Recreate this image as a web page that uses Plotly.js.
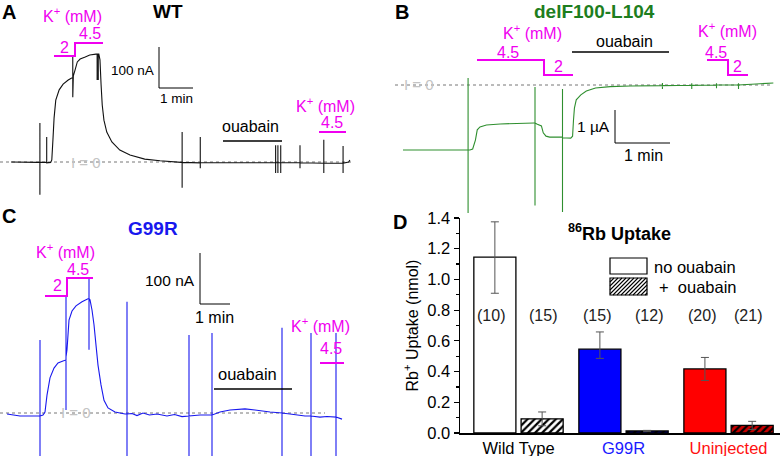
<!DOCTYPE html>
<html><head><meta charset="utf-8">
<script src="https://cdn.plot.ly/plotly-3.0.1.min.js"></script>
<style>html,body{margin:0;padding:0;background:#fff}#chart{width:781px;height:456px}</style>
</head><body><div id="chart"></div>
<script>
// ================= DATA =================
// Panel A (WT): time (s), current (nA); spikes are repeated time points
const wtTime = [0,47,51,51,51,51,63,63,63,70,72,74,76,79,85,92,101,107,109,109,109,110,113,117,122,131,139,150,152,152,152,154,154,154,155,157,159,161,164,169,178,192,210,236,263,300,302,302,302,302,334,334,334,334,400,467,467,467,467,471,471,471,471,476,476,476,476,510,510,510,510,552,552,552,552,586,586,586,586,596,598];
const wtCurrent = [0,-1,-1,95,-80,-1,-1,61,-2,-1,5,54,107,151,176,190,200,205,205,261,158,210,224,244,251,256,261,263,263,200,263,263,200,263,263,249,188,139,102,73,49,29,17,7,3,-1,-1,73,-63,-1,-2,61,-15,-2,-2,-2,41,-27,-2,-2,41,-27,-2,-2,41,-27,-2,-2,41,-15,-2,-3,54,-27,-3,-3,39,-27,-3,0,5];

// Panel B (delF100-L104): time (s), current (uA)
const delTime = [0,70,71,71,71,71,73,76,79,81,84,91,106,143,144,144,144,144,146,151,153,156,160,174,174,174,174,183,185,186,187,189,194,200,210,226,248,283,283,283,283,315,315,315,315,342,342,342,342,366,366,366,366,385,404];
const delCurrent = [-1.97,-1.97,-1.97,0.21,-3.88,-1.97,-1.97,-1.94,-1.67,-1.36,-1.27,-1.21,-1.18,-1.15,-1.15,-0.06,-3.65,-1.15,-1.18,-1.24,-1.45,-1.55,-1.58,-1.58,-0.12,-3.85,-1.6,-1.61,-1.55,-1.06,-0.70,-0.45,-0.30,-0.18,-0.09,-0.05,-0.03,-0.02,0.06,-0.12,-0.02,-0.01,0.05,-0.12,-0.01,0,0.05,-0.1,0,0,0.05,-0.12,0,0.03,0.06];

// Panel C (G99R): time (s), current (nA)
const g99rTime = [0,26,62,66,66,66,66,72,76,80,86,94,102,112,118,118,118,118,120,124,130,138,150,162,164,164,164,164,166,170,174,178,182,188,194,202,216,236,240,240,240,240,250,260,272,285,300,320,335,350,364,364,364,364,386,410,410,410,410,426,446,476,496,526,550,550,550,550,566,596,608,608,608,608,626,640,658,658,658,658,670];
const g99rCurrent = [-2,-6,-6,-6,143,-95,-6,-4,2,35,69,88,98,102,104,231,6,110,124,182,200,210,218,224,224,265,124,224,222,202,173,133,94,55,25,10,2,-2,-2,218,-95,-2,-1,-5,0,-4,-2,-6,-3,-7,-6,153,-95,-6,-4,-4,157,-95,-4,2,6,8,6,2,0,167,-95,0,-2,-6,-6,157,-95,-6,-8,-7,-8,157,-95,-8,-12];

// Panel D (86Rb uptake)
const groups = ['Wild Type', 'G99R', 'Uninjected'];
const uptakeNoOuabain = [1.145, 0.546, 0.417];
const errNoOuabainPlus = [0.23, 0.112, 0.075];
const errNoOuabainMinus = [0.235, 0.06, 0.075];
const uptakeOuabain = [0.092, 0.013, 0.049];
const errOuabain = [0.045, 0.004, 0.027];
const nNoOuabain = ['(10)', '(15)', '(20)'];
const nOuabain = ['(15)', '(12)', '(21)'];

// ================= LAYOUT HELPERS =================
const W = 781, H = 456;
const FONT = '"Liberation Sans", Arial, sans-serif';
const MAG = '#f000f0';
const GREEN_T = '#1e7e1e', GREEN = '#2f8f2f', BLUE = '#1818ee';

const panels = {
  A: {x0: 11, sx: 34/60, y0: 162, sy: 0.41, dom: [0, 390, 0, 200]},
  B: {x0: 403, sx: 55/60, y0: 85, sy: 33, dom: [390, 781, 0, 216]},
  C: {x0: 7, sx: 0.5, y0: 413, sy: 0.51, dom: [0, 390, 200, 456]}
};
function hiddenAxes(p) {
  const [l, r, t, b] = p.dom;
  return {
    x: {domain: [l/W, r/W], range: [(l-p.x0)/p.sx, (r-p.x0)/p.sx], visible: false, fixedrange: true},
    y: {domain: [1-b/H, 1-t/H], range: [(p.y0-b)/p.sy, (p.y0-t)/p.sy], visible: false, fixedrange: true}
  };
}
const aA = hiddenAxes(panels.A), aB = hiddenAxes(panels.B), aC = hiddenAxes(panels.C);

function ann(text, x, y, size, color, opts) {
  return Object.assign({xref: 'paper', yref: 'paper', x: x/W, y: 1-y/H, text: text, showarrow: false,
    font: {family: FONT, size: size, color: color}, xanchor: 'center', yanchor: 'middle'}, opts || {});
}
function ppath(pts) {
  return pts.map((p, i) => (i ? 'L' : 'M') + (p[0]/W).toFixed(5) + ',' + (1-p[1]/H).toFixed(5)).join(' ');
}
function pline(pts, color, width) {
  return {type: 'path', xref: 'paper', yref: 'paper', path: ppath(pts), line: {color: color, width: width}};
}
function scaleBar(p, xr, yr, cx, cy, dt, dI) {
  const t = (cx-p.x0)/p.sx, I = (p.y0-cy)/p.sy;
  return [
    {type: 'line', xref: xr, yref: yr, x0: t, x1: t, y0: I, y1: I+dI, line: {color: '#000', width: 1}},
    {type: 'line', xref: xr, yref: yr, x0: t, x1: t+dt, y0: I, y1: I, line: {color: '#000', width: 1}}
  ];
}
function zeroLine(xr, yr, f0, f1) {
  return {type: 'line', xref: xr + ' domain', yref: yr, x0: f0, x1: f1, y0: 0, y1: 0, layer: 'below',
    line: {color: '#777', width: 1, dash: 'dot'}};
}

// ================= TRACES =================
const traces = [
  {type: 'scatter', mode: 'lines', x: wtTime, y: wtCurrent, xaxis: 'x', yaxis: 'y',
   line: {color: '#111', width: 1.1, simplify: false}, hoverinfo: 'skip', showlegend: false},
  {type: 'scatter', mode: 'lines', x: delTime, y: delCurrent, xaxis: 'x2', yaxis: 'y2',
   line: {color: GREEN, width: 1.1, simplify: false}, hoverinfo: 'skip', showlegend: false},
  {type: 'scatter', mode: 'lines', x: g99rTime, y: g99rCurrent, xaxis: 'x3', yaxis: 'y3',
   line: {color: BLUE, width: 1.1, simplify: false}, hoverinfo: 'skip', showlegend: false},
  {type: 'bar', x: groups, y: uptakeNoOuabain, xaxis: 'x4', yaxis: 'y4', name: 'no ouabain', showlegend: false,
   marker: {color: ['#ffffff', '#0000ff', '#ff0000'], line: {color: '#000', width: 1.3}},
   error_y: {type: 'data', array: errNoOuabainPlus, arrayminus: errNoOuabainMinus, color: '#555', thickness: 1, width: 4}},
  {type: 'bar', x: groups, y: uptakeOuabain, xaxis: 'x4', yaxis: 'y4', name: '+ ouabain', showlegend: false,
   marker: {color: '#000', line: {color: '#000', width: 1.3},
     pattern: {shape: '/', fillmode: 'replace', fgcolor: '#000', fgopacity: 1,
               bgcolor: ['#ffffff', '#0000c0', '#c80000'], size: 5, solidity: 0.45}},
   error_y: {type: 'data', array: errOuabain, color: '#555', thickness: 1, width: 4}}
];

// ================= SHAPES =================
const shapes = [
  zeroLine('x', 'y', 0, 353/390),
  zeroLine('x2', 'y2', 5/391, 383/391),
  zeroLine('x3', 'y3', 0, 325/390),
  ...scaleBar(panels.A, 'x', 'y', 159, 88, 60, 100),
  ...scaleBar(panels.B, 'x2', 'y2', 615, 143, 60, 1),
  ...scaleBar(panels.C, 'x3', 'y3', 200, 304, 60, 100),
  // K+ steps
  pline([[54,56],[75,56],[75,43],[103,43]], MAG, 2),
  pline([[319,132],[346,132]], MAG, 2),
  pline([[477,60],[544,60],[544,75],[573,75]], MAG, 2),
  pline([[707,60],[728,60],[728,75],[748,75]], MAG, 2),
  pline([[45,296],[67,296],[67,278],[93,278]], MAG, 2),
  pline([[320,363],[344,363]], MAG, 2),
  // ouabain bars
  pline([[223,141],[282,141]], '#000', 1.5),
  pline([[572,52],[669,52]], '#000', 1.5),
  pline([[214,389],[292,389]], '#000', 1.5),
  // legend boxes
  {type: 'rect', xref: 'paper', yref: 'paper', x0: 610/W, x1: 647/W, y0: 1-274/H, y1: 1-258/H,
   fillcolor: '#fff', line: {color: '#000', width: 1.2}},
  {type: 'rect', xref: 'paper', yref: 'paper', x0: 610/W, x1: 647/W, y0: 1-295/H, y1: 1-278/H,
   fillcolor: '#fff', line: {color: '#000', width: 1.2}}
];
// hatch lines inside the second legend box
(function () {
  const L = 610, R = 647, T = 278, B = 295, h = B - T;
  for (let k = -h; k < R - L; k += 4) {
    const s0 = Math.max(0, -k), s1 = Math.min(h, (R - L) - k);
    if (s1 <= s0) continue;
    shapes.push(pline([[L + k + s0, B - s0], [L + k + s1, B - s1]], '#000', 1.1));
  }
})();

// ================= ANNOTATIONS =================
const K = 'K<sup>+</sup> (mM)';
const annotations = [
  // Panel A
  ann('<b>A</b>', 9, 12, 20, '#000'),
  ann('<b>WT</b>', 168, 12, 19, '#000'),
  ann(K, 72, 15, 16, MAG),
  ann('4.5', 90, 33, 16, MAG),
  ann('2', 64, 47, 16, MAG),
  ann('100 nA', 156, 70, 13.5, '#000', {xanchor: 'right'}),
  ann('1 min', 176, 99, 13.5, '#000'),
  ann('ouabain', 250, 127, 16, '#000'),
  ann(K, 325, 105, 16, MAG),
  ann('4.5', 332, 122, 16, MAG),
  ann('I = 0', 86, 162, 15, '#c4c4c4'),
  // Panel B
  ann('<b>B</b>', 402, 12, 20, '#000'),
  ann('<b>delF100-L104</b>', 594, 12, 19, GREEN_T),
  ann(K, 532, 32, 16, MAG),
  ann('4.5', 508, 52, 16, MAG),
  ann('2', 558, 67, 16, MAG),
  ann('ouabain', 624, 41, 16, '#000'),
  ann(K, 727, 30, 16, MAG),
  ann('4.5', 716, 52, 16, MAG),
  ann('2', 737, 67, 16, MAG),
  ann('1 µA', 612, 127, 15.5, '#000', {xanchor: 'right'}),
  ann('1 min', 643, 155, 16, '#000'),
  ann('I = 0', 419, 85, 15, '#c4c4c4'),
  // Panel C
  ann('<b>C</b>', 9, 216, 20, '#000'),
  ann('<b>G99R</b>', 153, 229, 19, BLUE),
  ann(K, 65, 251, 16, MAG),
  ann('4.5', 78, 269, 16, MAG),
  ann('2', 57, 285, 16, MAG),
  ann('100 nA', 197, 280, 15.5, '#000', {xanchor: 'right'}),
  ann('1 min', 215, 317, 16, '#000'),
  ann('ouabain', 248, 374, 16.5, '#000'),
  ann(K, 320, 325, 16, MAG),
  ann('4.5', 331, 348, 16, MAG),
  ann('I = 0', 76, 412, 15, '#c4c4c4'),
  // Panel D
  ann('<b>D</b>', 400, 222, 20, '#000'),
  ann('<b><sup>86</sup>Rb Uptake</b>', 619, 232, 18, '#000'),
  ann('no ouabain', 652, 267, 16.5, '#000', {xanchor: 'left'}),
  ann('+&nbsp;&nbsp;ouabain', 657, 287, 16.5, '#000', {xanchor: 'left'})
];
// n counts above the bars
const countX = [491, 543, 597, 649, 702, 748];
groups.forEach((g, i) => {
  annotations.push(ann(nNoOuabain[i], countX[2*i], 315, 16, '#222'));
  annotations.push(ann(nOuabain[i], countX[2*i+1], 315, 16, '#222'));
});

// ================= LAYOUT =================
const layout = {
  width: W, height: H, margin: {l: 0, r: 0, t: 0, b: 0},
  paper_bgcolor: '#fff', plot_bgcolor: 'rgba(0,0,0,0)',
  font: {family: FONT, size: 16, color: '#000'},
  showlegend: false,
  barmode: 'group', bargap: 0.1, bargroupgap: 0.11,
  xaxis: aA.x, yaxis: Object.assign({}, aA.y, {anchor: 'x'}),
  xaxis2: Object.assign({}, aB.x, {anchor: 'y2'}), yaxis2: Object.assign({}, aB.y, {anchor: 'x2'}),
  xaxis3: Object.assign({}, aC.x, {anchor: 'y3'}), yaxis3: Object.assign({}, aC.y, {anchor: 'x3'}),
  xaxis4: {
    domain: [460/W, 780/W], anchor: 'y4', type: 'category', range: [-0.557, 2.49],
    showline: true, linecolor: '#000', linewidth: 1.5, ticks: '', showgrid: false, zeroline: false,
    tickvals: groups,
    ticktext: ['Wild Type', '<span style="color:#1a1aff">G99R</span>', '<span style="color:#ff1010">Uninjected</span>'],
    tickfont: {family: FONT, size: 16.5, color: '#000'}, automargin: false, fixedrange: true
  },
  yaxis4: {
    domain: [1-433/H, 1-218/H], anchor: 'x4', range: [0, 1.4], dtick: 0.2, tickformat: '.1f',
    ticks: 'outside', ticklen: 5, tickwidth: 1.2, tickcolor: '#000',
    minor: {dtick: 0.1, ticks: 'outside', ticklen: 3, tickcolor: '#000'},
    showline: true, linecolor: '#000', linewidth: 1.5, showgrid: false, zeroline: false,
    tickfont: {family: FONT, size: 16.5, color: '#000'},
    title: {text: 'Rb<sup>+</sup> Uptake (nmol)', font: {family: FONT, size: 16, color: '#000'}},
    automargin: false, fixedrange: true
  },
  shapes: shapes, annotations: annotations
};

Plotly.newPlot('chart', traces, layout, {staticPlot: true, displayModeBar: false});
</script>
</body></html>
